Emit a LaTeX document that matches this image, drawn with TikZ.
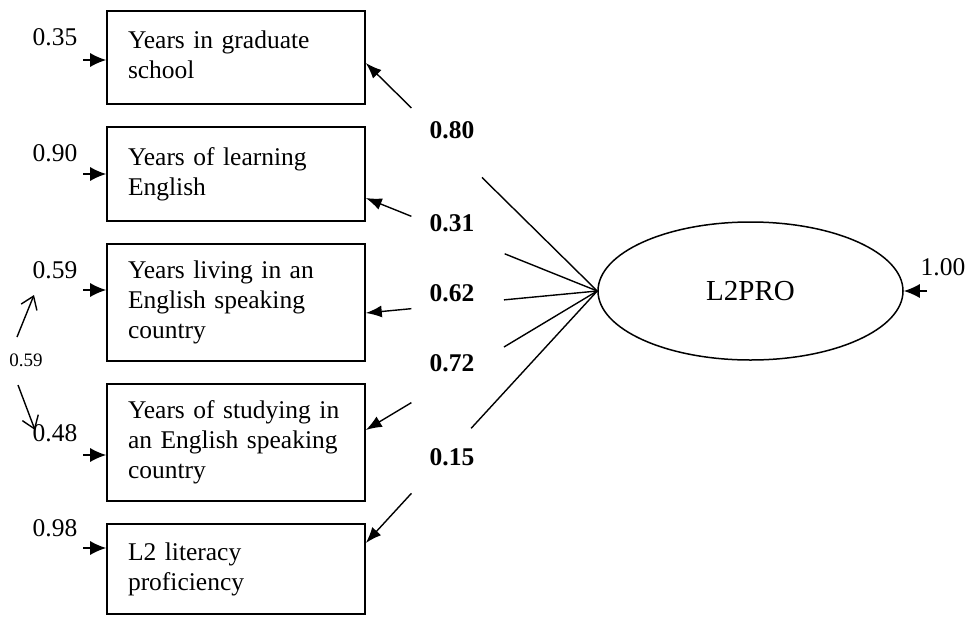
\documentclass[tikz,border=0pt]{standalone}
\usepackage{fontspec}
\setmainfont{Liberation Serif}
\usetikzlibrary{shapes.geometric,arrows.meta,calc}
\begin{document}
\begin{tikzpicture}[x=1pt,y=-1pt,
  box/.style={draw,line width=1.6pt,minimum width=258pt,inner xsep=21pt,inner ysep=0pt,
    text width=216pt,align=left,font=\fontsize{25.5}{30}\selectfont},
  lat/.style={draw,line width=1.5pt,ellipse,minimum width=305pt,minimum height=138pt,inner sep=0pt,
    font=\fontsize{29}{34}\selectfont},
  err/.style={font=\fontsize{25.5}{30}\selectfont,inner sep=0pt},
  coef/.style={font=\fontsize{25.5}{30}\selectfont\bfseries,inner sep=0pt},
  small/.style={font=\fontsize{19}{22}\selectfont,inner sep=0pt},
  load/.style={line width=1.4pt},
  loadarr/.style={line width=1.4pt,-{Latex[length=16pt,width=12pt]}},
  errarr/.style={line width=1.4pt,-{Latex[length=16pt,width=14pt]}},
  cov/.style={line width=1.4pt,-{Straight Barb[length=12pt,width=17pt,line width=1.4pt]}}
]
\useasboundingbox (0,0) rectangle (971,616);

% boxes
\node[box,minimum height=93pt]  (b1) at (236,57.5)  {\strut Years in graduate\\school\strut};
\node[box,minimum height=94pt]  (b2) at (236,174)   {\strut Years of learning\\English\strut};
\node[box,minimum height=117pt] (b3) at (236,302.5) {\strut Years living in an\\English speaking\\country\strut};
\node[box,minimum height=117pt] (b4) at (236,442.5) {\strut Years of studying in\\an English speaking\\country\strut};
\node[box,minimum height=90pt]  (b5) at (236,569)   {\strut L2 literacy\\proficiency\strut};

% latent
\node[lat] (L) at (750.5,291) {L2PRO};

% error labels
\node[err] (l1) at (55,37)  {0.35};
\node[err] (l2) at (55,153) {0.90};
\node[err] (l3) at (55,270) {0.59};
\node[err] (l4) at (55,433) {0.48};
\node[err] (l5) at (55,528) {0.98};
\node[err] (l6) at (943,267) {1.00};

% error arrows
\coordinate (e1) at (83,60);
\coordinate (e2) at (83,174);
\coordinate (e3) at (83,290);
\coordinate (e4) at (83,455);
\coordinate (e5) at (83,548);
\coordinate (e6) at (927,291);
\draw[errarr] (e1) -- (e1 -| b1.west);
\draw[errarr] (e2) -- (e2 -| b2.west);
\draw[errarr] (e3) -- (e3 -| b3.west);
\draw[errarr] (e4) -- (e4 -| b4.west);
\draw[errarr] (e5) -- (e5 -| b5.west);
\draw[errarr] (e6) -- (L.east);

% covariance
\node[small] (cv) at (26,360) {0.59};
\coordinate (c1) at (17,337);
\coordinate (c2) at (34,295);
\coordinate (c3) at (18,385);
\coordinate (c4) at (35,430);
\draw[cov] (c1) -- (c2);
\draw[cov] (c3) -- (c4);

% loadings targets
\coordinate (t1) at (b1.east |- 0,63);
\coordinate (t2) at (b2.east |- 0,198);
\coordinate (t3) at (b3.east |- 0,313);
\coordinate (t4) at (b4.east |- 0,430);
\coordinate (t5) at (b5.east |- 0,543);

\draw[load] (L.west) -- ($(L.west)!0.498!(t1)$);
\draw[loadarr] ($(L.west)!0.803!(t1)$) -- (t1);
\draw[load] (L.west) -- ($(L.west)!0.40!(t2)$);
\draw[loadarr] ($(L.west)!0.803!(t2)$) -- (t2);
\draw[load] (L.west) -- ($(L.west)!0.403!(t3)$);
\draw[loadarr] ($(L.west)!0.803!(t3)$) -- (t3);
\draw[load] (L.west) -- ($(L.west)!0.403!(t4)$);
\draw[loadarr] ($(L.west)!0.803!(t4)$) -- (t4);
\draw[load] (L.west) -- ($(L.west)!0.545!(t5)$);
\draw[loadarr] ($(L.west)!0.803!(t5)$) -- (t5);

% loading labels
\node[coef] (k1) at (452,130) {0.80};
\node[coef] (k2) at (452,223) {0.31};
\node[coef] (k3) at (452,293) {0.62};
\node[coef] (k4) at (452,363) {0.72};
\node[coef] (k5) at (452,457) {0.15};
\end{tikzpicture}
\end{document}
